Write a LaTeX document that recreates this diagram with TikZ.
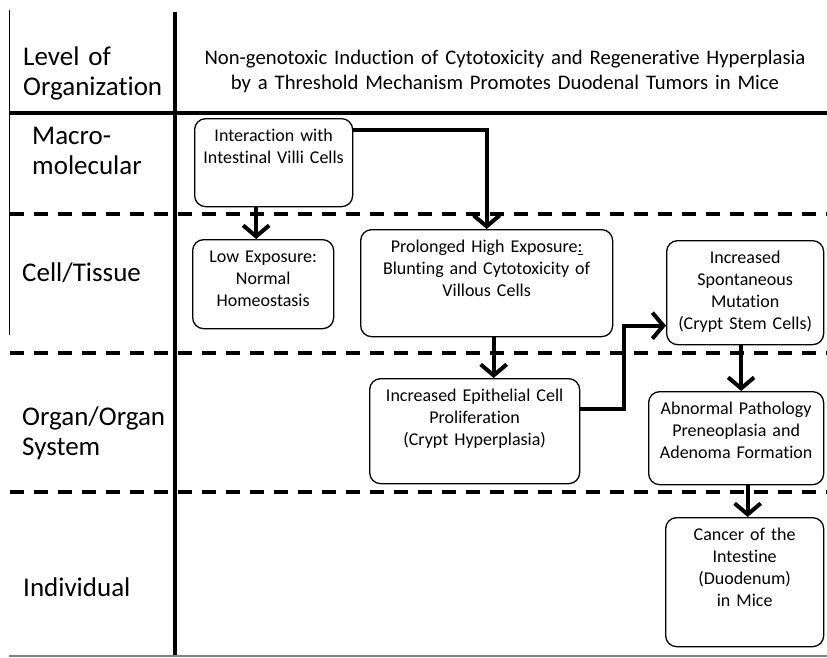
\documentclass[tikz,border=0pt]{standalone}
\usepackage{fontspec}
\setmainfont{Carlito}[Ligatures = NoCommon]
\usetikzlibrary{positioning, calc, arrows.meta}
\tikzstyle{Arrow} = [
%Thick arrow with open barb tip:
line width = 4pt,
-{Straight Barb[length = 11pt, width = 26pt]}
]

\begin{document}
\begin{tikzpicture}[x = 1pt, y = -1pt,
		level/.style = {anchor = base west, inner sep = 0pt, text width = 160pt, align = left, font = \fontsize{27}{30}\selectfont},
		heading/.style = {anchor = base, inner sep = 0pt, text width = 640pt, align = center, font = \fontsize{20.7}{25}\selectfont},
		stage/.style = {rectangle, draw, line width = 1.3pt, rounded corners = 11pt, anchor = north west, inner sep = 0pt, text height = 23pt, align = center, font = \fontsize{18}{22}\selectfont},
		band/.style = {line width = 4pt, dash pattern = on 14pt off 10pt},
	]
	\useasboundingbox (0,0) rectangle (827,657);

	% frame of the table
	\draw[line width = 1pt] (9,10) -- (9,335);
	\draw[line width = 3.2pt] (9,113) -- (827,113);
	\foreach \y in {214, 353, 492}
		\draw[band] (10,\y) -- (827,\y);
	\draw[line width = 3.5pt] (175,12) -- (175,657);
	\draw[gray, line width = 1.5pt] (9,656) -- (827,656);

	% levels
	\node[level] (lvl) at (23,65) {Level of\\Organization};
	\node[level] (macro) at (32,144) {Macro-\\molecular};
	\node[level] (cell) at (22,281) {Cell/Tissue};
	\node[level] (organ) at (22,425) {Organ/Organ\\System};
	\node[level] (indiv) at (23,596) {Individual};

	\node[heading] (title) at (505,64) {Non-genotoxic Induction of Cytotoxicity and Regenerative Hyperplasia\\by a Threshold Mechanism Promotes Duodenal Tumors in Mice};

	% stages
	\node[stage, text width = 158pt, text depth = 65pt] (inter) at (194,118) {Interaction with\\Intestinal Villi Cells};
	\node[stage, text width = 141pt, text depth = 66pt] (low) at (192,239) {Low Exposure:\\Normal\\Homeostasis};
	\node[stage, text width = 252pt, text depth = 84pt] (high) at (360,229) {Prolonged High Exposure\underline{:}\\Blunting and Cytotoxicity of\\Villous Cells};
	\node[stage, text width = 157pt, text depth = 81pt] (mut) at (666,240) {Increased\\Spontaneous\\Mutation\\(Crypt Stem Cells)};
	\node[stage, text width = 210pt, text depth = 82pt] (prolif) at (369,378) {Increased Epithelial Cell\\Proliferation\\(Crypt Hyperplasia)};
	\node[stage, text width = 175pt, text depth = 70pt] (patho) at (648,391) {Abnormal Pathology\\Preneoplasia and\\Adenoma Formation};
	\node[stage, text width = 158pt, text depth = 106pt] (cancer) at (665,517) {Cancer of the\\Intestine\\(Duodenum)\\in Mice};

	\draw[Arrow] ([xshift = -7pt]low.north |- inter.south) -- ([xshift = -7pt]low.north);
	\draw[Arrow] ([yshift = -12pt]inter.north east) -| (high.north);
	\draw[Arrow] ([xshift = 7pt]high.south) -- ([xshift = 7pt]high.south |- prolif.north);
	\draw[Arrow] ([yshift = 22pt]prolif.east) -- ++(44,0) |- ([yshift = -33pt]mut.west);
	\draw[Arrow] ([xshift = -4pt]mut.south) -- ([xshift = -4pt]mut.south |- patho.north);
	\draw[Arrow] ([xshift = 3pt]cancer.north |- patho.south) -- ([xshift = 3pt]cancer.north);

\end{tikzpicture}
\end{document}
